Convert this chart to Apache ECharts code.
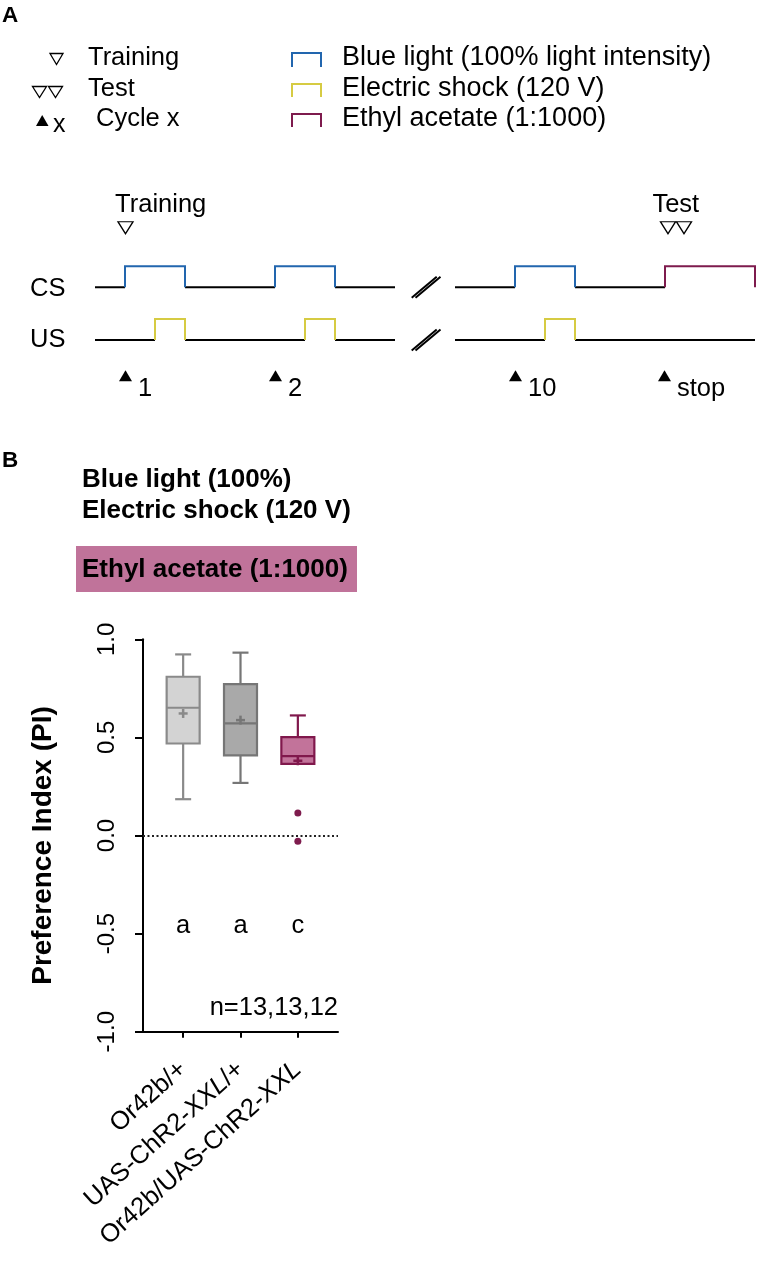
<!DOCTYPE html>
<html><head><meta charset="utf-8">
<script src="https://cdn.jsdelivr.net/npm/echarts@6/dist/echarts.min.js"></script>
<style>html,body{margin:0;padding:0;background:#fff}#c{width:757px;height:1261px}</style>
</head><body><div id="c"></div><script>
const FONT = '"Liberation Sans", Arial, Helvetica, sans-serif';

// ---------- Panel B data ----------
const categories = ['Or42b/+', 'UAS-ChR2-XXL/+', 'Or42b/UAS-ChR2-XXL'];
const whiskerLow = [0.185, 0.268, 0.365];
const quartile1 = [0.469, 0.408, 0.365];
const medians = [0.651, 0.571, 0.405];
const quartile3 = [0.809, 0.772, 0.501];
const whiskerHigh = [0.923, 0.932, 0.612];
const means = [0.622, 0.588, 0.381];
const outliers = [[3, 0.115], [3, -0.029]];
const groupLetters = ['a', 'a', 'c'];
const sampleSizes = [13, 13, 12];
const yTickLabels = ['-1.0', '-0.5', '0.0', '0.5', '1.0'];

// ---------- Panel A protocol (arbitrary time units) ----------
const csPulses = [[3, 9], [18, 24], [42, 48]];
const usPulses = [[6, 9], [21, 24], [45, 48]];
const odorPulse = [57, 66];
const spanBeforeBreak = [0, 30];
const spanAfterBreak = [36, 66];
const cycleOnsets = [3.05, 18.05, 42.05, 56.95];
const cycleNames = ['1', '2', '10', 'stop'];
const trainingMarks = [3.05];
const testMarks = [57.3, 58.9];

const BLUE = '#2266ae', YELLOW = '#d6cb43', PURPLE = '#7e1b4d', PINK = '#c0739a';
const boxFill = ['#d3d3d3', '#a9a9a9', '#c2739a'];
const boxStroke = ['#8a8a8a', '#767676', '#80184c'];

function baseSegs(span, pulses, base, stopAt) {
  const segs = [];
  let cur = span[0];
  const end = stopAt !== undefined ? Math.min(stopAt, span[1]) : span[1];
  pulses.filter(p => p[0] >= span[0] && p[1] <= span[1]).forEach(p => {
    if (p[0] > cur) segs.push({coords: [[cur, base], [p[0], base]]});
    cur = p[1];
  });
  if (end > cur) segs.push({coords: [[cur, base], [end, base]]});
  return segs;
}
function pulseSegs(pulses, base) {
  return pulses.map(p => ({coords: [[p[0], base], [p[0], base + 0.4], [p[1], base + 0.4], [p[1], base]]}));
}
const CS = 1, US = 0;
const blackSegs = [].concat(
  baseSegs(spanBeforeBreak, csPulses, CS), baseSegs(spanAfterBreak, csPulses, CS, odorPulse[0]),
  baseSegs(spanBeforeBreak, usPulses, US), baseSegs(spanAfterBreak, usPulses, US)
);
const breakSegs = [];
[CS, US].forEach(b => {
  breakSegs.push({coords: [[31.67, b - 0.2], [34.17, b + 0.2]]});
  breakSegs.push({coords: [[32.05, b - 0.2], [34.55, b + 0.2]]});
});

const boxData = categories.map((c, i) => [i + 1, whiskerLow[i], quartile1[i], medians[i], quartile3[i], whiskerHigh[i], means[i]]);

function txt(x, baseline, text, size, bold, extra) {
  return Object.assign({
    type: 'text', x: x, y: baseline - 0.32 * size,
    style: {text: text, fill: '#000', font: (bold ? 'bold ' : '') + size + 'px ' + FONT,
      verticalAlign: 'middle', textVerticalAlign: 'middle', align: 'left', textAlign: 'left'}
  }, extra || {});
}
function triDown(cx, cy, w, h) {
  return {type: 'polygon', shape: {points: [[cx - w / 2, cy - h / 2], [cx + w / 2, cy - h / 2], [cx, cy + h / 2]]},
    style: {fill: '#fff', stroke: '#000', lineWidth: 1.3}};
}
function bracket(x0, x1, y0, y1, color) {
  return {type: 'polyline', shape: {points: [[x0, y1], [x0, y0], [x1, y0], [x1, y1]]},
    style: {stroke: color, lineWidth: 2, fill: null}};
}

const chart = echarts.init(document.getElementById('c'), null, {renderer: 'canvas'});
const option = {
  animation: false,
  backgroundColor: '#fff',
  grid: [
    {left: 143, top: 639.3, width: 195, height: 392.4},
    {left: 95, top: 208.25, width: 660, height: 210.8}
  ],
  xAxis: [
    {type: 'value', gridIndex: 0, min: 0.3, max: 3.7, position: 'bottom',
      axisLine: {show: true, onZero: false, lineStyle: {color: '#000', width: 2}},
      axisTick: {show: true, customValues: [1, 2, 3], length: 6, lineStyle: {color: '#000', width: 2}},
      splitLine: {show: false},
      axisLabel: {show: true, customValues: [1, 2, 3], rotate: 42, margin: 34, color: '#000',
        formatter: function (v) {
          const s = categories[Math.round(v) - 1] || '';
          const parts = s.split('XXL');
          if (parts.length === 1) return '{n|' + s + '}';
          return parts.map(p => p ? '{n|' + p + '}' : '').join('{i|XXL}');
        },
        rich: {n: {fontSize: 25.5, fontFamily: FONT, color: '#000'},
               i: {fontSize: 25.5, fontFamily: FONT, fontStyle: 'italic', color: '#000'}}}
    },
    {type: 'value', gridIndex: 1, min: 0, max: 66, show: false}
  ],
  yAxis: [
    {type: 'value', gridIndex: 0, min: -1, max: 1, interval: 0.5,
      axisLine: {show: true, onZero: false, lineStyle: {color: '#000', width: 2}},
      axisTick: {show: true, length: 8, lineStyle: {color: '#000', width: 2}},
      splitLine: {show: false},
      axisLabel: {rotate: 90, margin: 24, fontSize: 24, fontFamily: FONT, color: '#000',
        formatter: function (v) { return yTickLabels[Math.round((v + 1) * 2)]; }},
      name: 'Preference Index (PI)', nameLocation: 'middle', nameRotate: 90, nameGap: 86,
      nameTextStyle: {fontSize: 28, fontWeight: 'bold', fontFamily: FONT, color: '#000', padding: [0, 20, 0, 0]}
    },
    {type: 'value', gridIndex: 1, min: -1.5, max: 2.5, show: false}
  ],
  series: [
    {
      type: 'custom', xAxisIndex: 0, yAxisIndex: 0, data: boxData,
      encode: {x: 0, y: [1, 2, 3, 4, 5]},
      renderItem: function (params, api) {
        const i = params.dataIndex;
        const x = api.value(0);
        const lo = api.coord([x, api.value(1)]);
        const q1 = api.coord([x, api.value(2)]);
        const md = api.coord([x, api.value(3)]);
        const q3 = api.coord([x, api.value(4)]);
        const hi = api.coord([x, api.value(5)]);
        const mn = api.coord([x, api.value(6)]);
        const lt = api.coord([x, -0.46]);
        const cx = lo[0], hw = 16.5, cw = 8, m = 4.5;
        const st = {stroke: boxStroke[i], lineWidth: 2.2};
        const ch = [];
        ch.push({type: 'line', shape: {x1: cx, y1: hi[1], x2: cx, y2: q3[1]}, style: st});
        ch.push({type: 'line', shape: {x1: cx - cw, y1: hi[1], x2: cx + cw, y2: hi[1]}, style: st});
        if (lo[1] - q1[1] > 1) {
          ch.push({type: 'line', shape: {x1: cx, y1: q1[1], x2: cx, y2: lo[1]}, style: st});
          ch.push({type: 'line', shape: {x1: cx - cw, y1: lo[1], x2: cx + cw, y2: lo[1]}, style: st});
        }
        ch.push({type: 'rect', shape: {x: cx - hw, y: q3[1], width: 2 * hw, height: q1[1] - q3[1]},
          style: {fill: boxFill[i], stroke: boxStroke[i], lineWidth: 2.2}});
        ch.push({type: 'line', shape: {x1: cx - hw, y1: md[1], x2: cx + hw, y2: md[1]}, style: st});
        ch.push({type: 'line', shape: {x1: cx - m, y1: mn[1], x2: cx + m, y2: mn[1]}, style: {stroke: boxStroke[i], lineWidth: 2.5}});
        ch.push({type: 'line', shape: {x1: cx, y1: mn[1] - m, x2: cx, y2: mn[1] + m}, style: {stroke: boxStroke[i], lineWidth: 2.5}});
        ch.push({type: 'text', x: cx, y: lt[1], style: {text: groupLetters[i], fill: '#000',
          font: '25.5px ' + FONT, align: 'center', textAlign: 'center', verticalAlign: 'middle', textVerticalAlign: 'middle'}});
        return {type: 'group', children: ch};
      },
      markLine: {silent: true, symbol: 'none', label: {show: false},
        lineStyle: {type: [2, 2.5], color: '#222', width: 2},
        data: [{yAxis: 0}]}
    },
    {
      type: 'scatter', xAxisIndex: 0, yAxisIndex: 0, data: outliers,
      symbol: 'circle', symbolSize: 7, itemStyle: {color: PURPLE, opacity: 1}
    },
    // Panel A timeline
    {type: 'lines', coordinateSystem: 'cartesian2d', xAxisIndex: 1, yAxisIndex: 1, polyline: true,
      data: blackSegs, lineStyle: {color: '#000', width: 2, opacity: 1}},
    {type: 'lines', coordinateSystem: 'cartesian2d', xAxisIndex: 1, yAxisIndex: 1, polyline: true,
      data: breakSegs, lineStyle: {color: '#000', width: 2, opacity: 1}},
    {type: 'lines', coordinateSystem: 'cartesian2d', xAxisIndex: 1, yAxisIndex: 1, polyline: true,
      data: pulseSegs(csPulses, CS), lineStyle: {color: BLUE, width: 2, opacity: 1}},
    {type: 'lines', coordinateSystem: 'cartesian2d', xAxisIndex: 1, yAxisIndex: 1, polyline: true,
      data: pulseSegs(usPulses, US), lineStyle: {color: YELLOW, width: 2, opacity: 1}},
    {type: 'lines', coordinateSystem: 'cartesian2d', xAxisIndex: 1, yAxisIndex: 1, polyline: true,
      data: pulseSegs([odorPulse], CS), lineStyle: {color: PURPLE, width: 2, opacity: 1}},
    {type: 'scatter', xAxisIndex: 1, yAxisIndex: 1,
      data: trainingMarks.map(t => [t, 2.13]), symbol: 'triangle', symbolRotate: 180, symbolSize: [15, 12],
      itemStyle: {color: '#fff', borderColor: '#000', borderWidth: 1.3, opacity: 1},
      label: {show: true, position: 'inside', formatter: 'Training', offset: [35.2, -22.7],
        fontSize: 25.5, fontFamily: FONT, color: '#000'}},
    {type: 'scatter', xAxisIndex: 1, yAxisIndex: 1,
      data: testMarks.map((t, k) => ({value: [t, 2.13], label: {show: k === 0}})),
      symbol: 'triangle', symbolRotate: 180, symbolSize: [15, 12],
      itemStyle: {color: '#fff', borderColor: '#000', borderWidth: 1.3, opacity: 1},
      label: {position: 'inside', formatter: 'Test', offset: [7.8, -22.7],
        fontSize: 25.5, fontFamily: FONT, color: '#000'}},
    {type: 'scatter', xAxisIndex: 1, yAxisIndex: 1,
      data: cycleOnsets.map((t, k) => ({value: [t, -0.68], name: cycleNames[k]})),
      symbol: 'triangle', symbolSize: [13, 11], itemStyle: {color: '#000', opacity: 1},
      label: {show: true, position: 'inside', align: 'left', formatter: '{b}', offset: [12.5, 13.2],
        fontSize: 25.5, fontFamily: FONT, color: '#000'}}
  ],
  graphic: [
    txt(2, 22.5, 'A', 22.5, true),
    txt(2, 467.5, 'B', 22.5, true),
    triDown(56.5, 59, 13, 11),
    txt(88, 66, 'Training', 25.5),
    triDown(39.5, 92, 14, 11), triDown(55.5, 92, 14, 11),
    txt(88, 97, 'Test', 25.5),
    {type: 'polygon', shape: {points: [[36, 126], [48.5, 126], [42.2, 115]]}, style: {fill: '#000'}},
    txt(53, 133, 'x', 25),
    txt(96, 127, 'Cycle x', 25.5),
    bracket(292, 321, 53, 67, BLUE),
    txt(342, 66, 'Blue light (100% light intensity)', 27),
    bracket(292, 321, 84, 97, YELLOW),
    txt(342, 97, 'Electric shock (120 V)', 27),
    bracket(292, 321, 114, 127, PURPLE),
    txt(342, 127, 'Ethyl acetate (1:1000)', 27),
    txt(30, 297, 'CS', 25.5),
    txt(30, 348, 'US', 25.5),
    txt(82, 488, 'Blue light (100%)', 26, true),
    txt(82, 519, 'Electric shock (120 V)', 26, true),
    {type: 'rect', shape: {x: 76, y: 546, width: 281, height: 46}, style: {fill: PINK}},
    txt(82, 578, 'Ethyl acetate (1:1000)', 26, true),
    {type: 'text', x: 338, y: 1016 - 0.32 * 25.5,
      style: {text: 'n=' + sampleSizes.join(','), fill: '#000', font: '25.5px ' + FONT,
        align: 'right', textAlign: 'right', verticalAlign: 'middle', textVerticalAlign: 'middle'}}
  ]
};
chart.setOption(option);
</script></body></html>
